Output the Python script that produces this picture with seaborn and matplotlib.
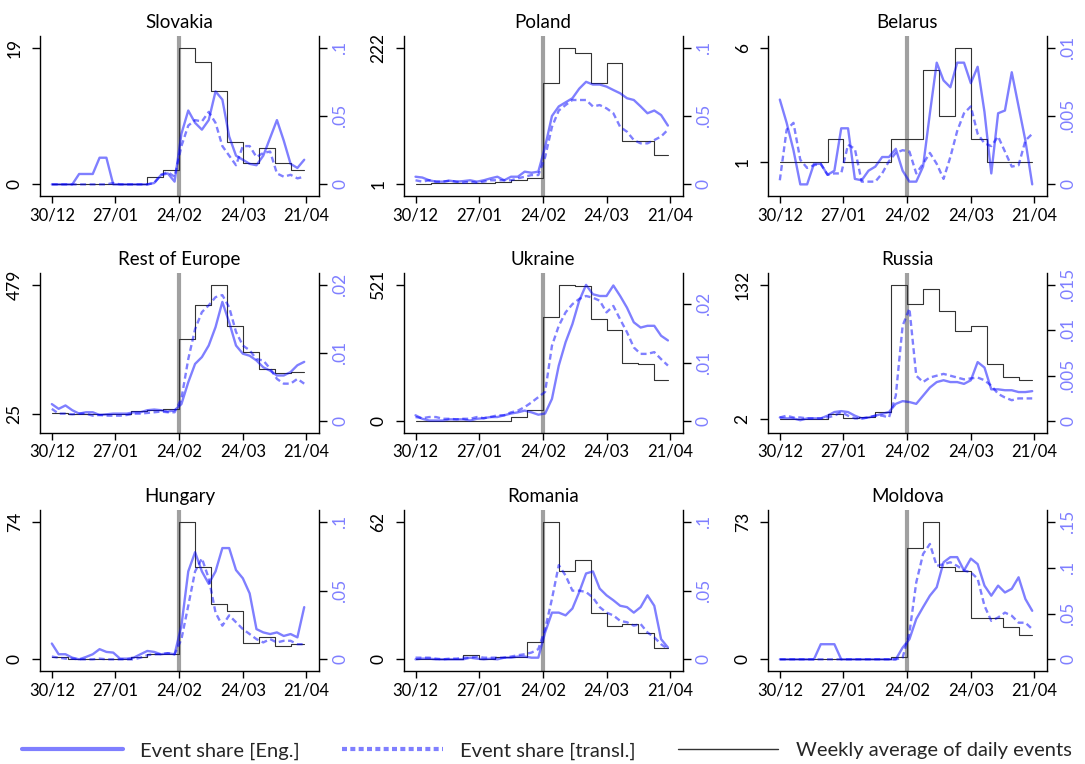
import numpy as np
import pandas as pd
import matplotlib
matplotlib.use("Agg")
import matplotlib.pyplot as plt
from matplotlib.lines import Line2D
from matplotlib.ticker import FuncFormatter
import matplotlib.dates as mdates
import seaborn as sns

sns.set_theme(style="white")
plt.rcParams['font.family'] = ['Lato', 'DejaVu Sans']

# ---------------- data ----------------
start = pd.Timestamp('2021-12-30')
share_dates = pd.date_range(start, periods=38, freq='3D')   # every 3rd day, 30/12 .. 20/04
week_starts = pd.date_range(start, periods=16, freq='7D')
last_day = pd.Timestamp('2022-04-20')
invasion = pd.Timestamp('2022-02-24')
xtick_dates = pd.date_range(start, periods=5, freq='28D')

countries = ["Slovakia", "Poland", "Belarus",
             "Rest of Europe", "Ukraine", "Russia",
             "Hungary", "Romania", "Moldova"]

slovakia_eng = [0, 0, 0, 0, .0076, .0076, .0076, .0195, .0195, 0, 0, 0, 0, 0, 0, .001, .0068, .008, .002,
                .037, .054, .045, .040, .047, .068, .062, .035, .021, .018, .015, .014, .021, .034, .047, .032, .015, .012, .018]
slovakia_trn = [0, 0, 0, 0, 0, 0, 0, 0, 0, .001, 0, 0, 0, 0, 0, .001, .007, .009, .0056,
                .028, .043, .047, .046, .053, .045, .028, .021, .014, .028, .028, .020, .023, .024, .008, .0056, .007, .0044, .0056]
slovakia_blk = [0, 0, 0, 0, 0, 0, 1, 2, 19, 17, 13, 5.9, 3, 5, 3, 2]

poland_eng = [.0056, .005, .003, .002, .002, .0027, .002, .0024, .003, .002, .003, .0044, .0056, .003, .0056, .0056, .0093, .0085, .0093,
              .0276, .050, .057, .060, .063, .070, .075, .073, .073, .0715, .069, .0666, .063, .0617, .057, .052, .054, .0507, .043]
poland_trn = [.003, .002, .003, .002, .002, .0027, .002, .0012, .002, .0012, .002, .003, .003, .003, .003, .0044, .0056, .0068, .0068,
              .020, .042, .054, .058, .0617, .0617, .0617, .057, .058, .0556, .052, .042, .0385, .0324, .030, .030, .0324, .035, .040]
poland_blk = [1, 3, 3, 3, 3, 4, 7, 10, 164, 222, 214, 164, 197, 70, 70, 48]

belarus_eng = [.0062, .0045, .0025, 0, 0, .0015, .0015, .0007, .001, .0041, .0041, .0004, .0003, .001, .0013, .002, .002, .0026, .001,
               .0002, .0002, .0013, .0052, .0089, .0076, .0071, .0089, .0089, .0074, .0086, .0053, .0008, .0052, .0054, .0082, .0057, .0032, 0]
belarus_trn = [.0003, .004, .0045, .0018, .0012, .0014, .0015, .0007, .0008, .0008, .0029, .0026, .0002, .0002, .0002, .0008, .0017, .0023, .0025,
               .0024, .0008, .0015, .0023, .0015, .0004, .002, .0039, .0052, .0057, .0037, .003, .0028, .0035, .0024, .0013, .0014, .0032, .0037]
belarus_blk = [1, 1, 1, 2, 1, 1, 1, 2, 2, 5, 3, 6, 2, 1, 1, 1]

europe_eng = [.0025, .0018, .0023, .0016, .0011, .0013, .0013, .0009, .001, .0011, .0011, .0011, .0013, .0013, .0016, .0017, .0016, .0014, .0016,
              .0025, .0057, .0084, .0094, .0111, .0138, .0175, .0145, .0111, .0099, .0096, .0089, .0079, .0074, .0067, .0067, .0072, .0082, .0087]
europe_trn = [.0018, .0011, .0011, .001, .0011, .0011, .0008, .0009, .0008, .0008, .0008, .0009, .0011, .0011, .0012, .0013, .0014, .0013, .0013,
              .0033, .0091, .0135, .016, .017, .0182, .0185, .0167, .0131, .0111, .0104, .0091, .0089, .0077, .0062, .0055, .0055, .0062, .0055]
europe_blk = [28, 25, 25, 26, 26, 36, 40, 42, 289, 410, 479, 336, 244, 185, 169, 171]

ukraine_eng = [.001, .0004, .0001, .0001, .0001, .0003, .0003, .0003, .0001, .0004, .0005, .0007, .0007, .001, .0013, .0015, .0018, .0015, .0011,
               .0013, .0038, .0095, .0135, .0166, .0206, .0233, .0217, .0214, .0214, .0232, .0214, .0194, .0169, .016, .0163, .0163, .0146, .0138]
ukraine_trn = [.0007, .0005, .0007, .0007, .0004, .0004, .0003, .0004, .0004, .0007, .0005, .0007, .001, .001, .0015, .0018, .0024, .0032, .0041,
               .005, .0129, .0163, .0186, .02, .0209, .0214, .0211, .0206, .0186, .0197, .0174, .0152, .0126, .0115, .0115, .0118, .0106, .0095]
ukraine_blk = [0, 1, 1, 2, 2, 2, 15, 43, 397, 521, 517, 391, 348, 224, 220, 158]

russia_eng = [.0004, .0003, .0003, .0001, .0003, .0003, .0003, .0006, .001, .0011, .001, .0006, .0003, .0004, .0006, .0008, .001, .0019, .0022,
              .0021, .0019, .0028, .0037, .0043, .0045, .0043, .0043, .0041, .0045, .0065, .0059, .0035, .0035, .0034, .0034, .0032, .0032, .0033]
russia_trn = [.0004, .0006, .0004, .0004, .0003, .0003, .0003, .0004, .0006, .001, .0006, .0003, .0003, .0004, .0006, .0006, .0004, .0028, .0105,
              .0124, .005, .0043, .0048, .005, .0052, .005, .0048, .0046, .0047, .0048, .0045, .0039, .003, .0026, .0023, .0025, .0025, .0025]
russia_blk = [2, 2, 2, 7, 3, 4, 9, 132, 113, 128, 107, 87, 92, 55, 43, 40]

hungary_eng = [.0115, .0037, .0037, .0012, 0, .0017, .0037, .0074, .0054, .0049, .0005, .0005, .0012, .0037, .0061, .0054, .0037, .0044, .0037,
               .0245, .064, .078, .064, .055, .064, .081, .081, .065, .059, .048, .022, .0196, .0184, .0196, .017, .0184, .016, .038]
hungary_trn = [.002, .0012, .0005, .0005, 0, 0, 0, .0005, 0, 0, 0, 0, 0, .0012, .003, .0037, .0037, .0044, .0037,
               .0147, .039, .064, .0735, .059, .034, .0245, .032, .027, .022, .0184, .0147, .0123, .0147, .0123, .0135, .0135, .011, .011]
hungary_blk = [1, 0, 0.4, 0.4, 0.4, 1, 3, 3, 74, 50, 30, 26, 9, 12, 7, 8]

romania_eng = [0, .0005, .0005, 0, 0, 0, 0, 0, .0012, .0005, 0, .0005, 0, .0012, .0012, .002, .002, .0012, .0012,
               .0196, .034, .034, .032, .037, .049, .0625, .064, .0515, .0466, .043, .039, .038, .034, .038, .0466, .039, .0147, .0086]
romania_trn = [.0012, .0012, .0012, .0005, 0, .0005, .0005, .0012, .0012, .002, .0012, .0012, .0012, .0012, .002, .003, .0037, .0049, .0074,
               .022, .044, .0686, .061, .05, .05, .049, .045, .038, .034, .032, .028, .027, .0245, .0257, .0196, .016, .011, .0074]
romania_blk = [0, 0, 0, 1.8, 0.3, 1, 1.2, 8, 62, 40, 45, 21, 15, 16, 12, 5]

moldova_eng = [0, 0, 0, 0, 0, 0, .0165, .0165, .0165, 0, 0, 0, 0, 0, 0, 0, 0, 0, .0128,
               .022, .044, .057, .0695, .0787, .106, .1116, .1116, .097, .11, .104, .0805, .0695, .0805, .073, .077, .0896, .0659, .053]
moldova_trn = [0, 0, 0, 0, 0, 0, 0, 0, 0, 0, 0, 0, 0, 0, 0, 0, 0, 0, .0018,
               .029, .084, .115, .126, .102, .104, .106, .102, .097, .095, .088, .0585, .042, .0457, .051, .0476, .04, .04, .033]
moldova_blk = [0, 0, 0, 0, 0, 0, 0, 1, 59, 73, 49, 47, 22, 22, 17, 13]

eng_series = [slovakia_eng, poland_eng, belarus_eng, europe_eng, ukraine_eng,
              russia_eng, hungary_eng, romania_eng, moldova_eng]
trn_series = [slovakia_trn, poland_trn, belarus_trn, europe_trn, ukraine_trn,
              russia_trn, hungary_trn, romania_trn, moldova_trn]
blk_series = [slovakia_blk, poland_blk, belarus_blk, europe_blk, ukraine_blk,
              russia_blk, hungary_blk, romania_blk, moldova_blk]
share_ticks = [[0, .05, .1], [0, .05, .1], [0, .005, .01],
               [0, .01, .02], [0, .01, .02], [0, .005, .01, .015],
               [0, .05, .1], [0, .05, .1], [0, .05, .1, .15]]

legend_labels = ["Event share [Eng.]", "Event share [transl.]", "Weekly average of daily events"]

# ---------------- style ----------------
W, H = 1085, 764
BLUE = 'blue'
BLUE_TXT = '#7f7fff'
BLACK_LINE = '#333333'
DASH = (0, (2.5, 1.5))
MARGIN = 0.085

col_left = [40, 403.7, 768]
col_width = 279
row_top = [36, 273.3, 510.3]
row_height = [160, 159.4, 160.7]

fig = plt.figure(figsize=(W / 100, H / 100), dpi=100)


def share_fmt(v, pos):
    s = f"{v:g}"
    if s.startswith("0."):
        s = s[1:]
    return s


for i, name in enumerate(countries):
    r, c = divmod(i, 3)
    rect = [col_left[c] / W, 1 - (row_top[r] + row_height[r]) / H,
            col_width / W, row_height[r] / H]
    ax1 = fig.add_axes(rect)
    ax2 = ax1.twinx()

    eng = eng_series[i]
    trn = trn_series[i]
    blk = blk_series[i]

    ax1.axvline(invasion, color='#a0a0a0', lw=3, zorder=0)

    blk_x = list(week_starts) + [last_day]
    blk_y = list(blk) + [blk[-1]]
    sns.lineplot(x=blk_x, y=blk_y, ax=ax1, color=BLACK_LINE, lw=0.8,
                 drawstyle='steps-post', zorder=2)
    sns.lineplot(x=share_dates, y=eng, ax=ax2, color=BLUE, alpha=0.5, lw=1.7)
    sns.lineplot(x=share_dates, y=trn, ax=ax2, color=BLUE, alpha=0.5, lw=1.7,
                 linestyle=DASH)

    L = max(blk)
    R = max(max(share_ticks[i]), max(eng), max(trn))
    ax1.set_ylim(-MARGIN * L, L * (1 + MARGIN))
    ax2.set_ylim(-MARGIN * R, R * (1 + MARGIN))

    ax1.set_xlim(start - pd.Timedelta(days=5.2), start + pd.Timedelta(days=117.5))
    ax1.set_xticks(xtick_dates)
    ax1.xaxis.set_major_formatter(mdates.DateFormatter('%d/%m'))

    ax1.set_yticks([min(blk), max(blk)])
    ax1.yaxis.set_major_formatter(FuncFormatter(lambda v, p: f"{v:g}"))
    ax2.set_yticks(share_ticks[i])
    ax2.yaxis.set_major_formatter(FuncFormatter(share_fmt))

    for a in (ax1, ax2):
        a.set_xlabel('')
        a.set_ylabel('')
        a.grid(False)
        a.patch.set_visible(False)
        for s in a.spines.values():
            s.set_visible(False)
            s.set_color('black')
            s.set_linewidth(1.0)
    ax1.spines['left'].set_visible(True)
    ax1.spines['bottom'].set_visible(True)
    ax2.spines['right'].set_visible(True)

    ax1.tick_params(axis='x', bottom=True, direction='out', length=5, width=1.0,
                    color='black', labelsize=12, pad=3, labelcolor='black')
    ax1.tick_params(axis='y', left=True, right=False, direction='out', length=5.5, width=1.0,
                    color='black', labelsize=12.5, pad=7, labelrotation=90, labelcolor='black')
    ax2.tick_params(axis='y', right=True, left=False, direction='out', length=5.5, width=1.0,
                    color='black', labelsize=12.5, pad=4, labelrotation=90, labelcolor=BLUE_TXT)
    for lab in ax1.get_yticklabels():
        lab.set_va('center')
    for lab in ax2.get_yticklabels():
        lab.set_va('center')

    ax1.set_title(name, fontsize=13.5, pad=6, color='black')

handles = [Line2D([], [], color=BLUE, alpha=0.5, lw=3),
           Line2D([], [], color=BLUE, alpha=0.5, lw=3, linestyle=(0, (1.2, 0.8))),
           Line2D([], [], color=BLACK_LINE, lw=1)]
fig.legend(handles, legend_labels, loc='center', bbox_to_anchor=(0.504, 0.017),
           ncol=3, frameon=False, fontsize=14.5, handlelength=5.0,
           handletextpad=0.85, columnspacing=2.1)

fig.savefig('out.png', dpi=100)
